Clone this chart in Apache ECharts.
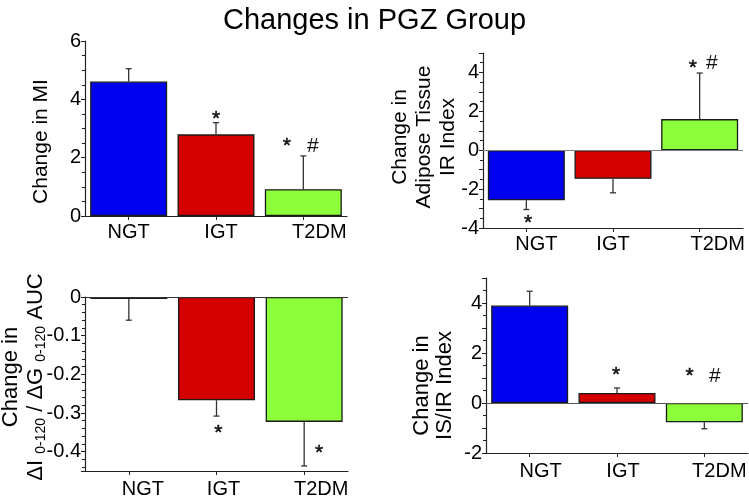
<!DOCTYPE html>
<html><head><meta charset="utf-8">
<script src="https://cdn.jsdelivr.net/npm/echarts@6/dist/echarts.min.js"></script>
<style>html,body{margin:0;padding:0;background:#fff}#c{width:749px;height:497px}</style>
</head><body><div id="c"></div>
<script>
// ---- data ----
const categories = ['NGT', 'IGT', 'T2DM'];
const barColors = ['#0000F0', '#D40000', '#8CFF3A'];

const miValues = [4.61, 2.80, 0.92];
const miSE = [0.44, 0.40, 1.14];
const miMarks = [[1.0, 3.5, '*'], [1.81, 2.55, '*'], [2.11, 2.4, '#']];
const miTicks = [0, 2, 4, 6];

const adiValues = [-2.57, -1.47, 1.60];
const adiSE = [0.48, 0.72, 2.37];
const adiMarks = [[0.02, -3.5, '*'], [1.92, 4.45, '*'], [2.14, 4.45, '#']];
const adiTicks = [-4, -2, 0, 2, 4];

const aucValues = [-0.005, -0.267, -0.323];
const aucSE = [0.055, 0.041, 0.114];
const aucMarks = [[1.02, -0.34, '*'], [2.17, -0.39, '*']];
const aucTicks = [0, -0.1, -0.2, -0.3, -0.4];

const isirValues = [3.90, 0.40, -0.77];
const isirSE = [0.57, 0.20, 0.26];
const isirMarks = [[0.99, 1.33, '*'], [1.83, 1.27, '*'], [2.12, 1.07, '#']];
const isirTicks = [-2, 0, 2, 4];

// ---- chart ----
const FONT = '"Liberation Sans", Arial, sans-serif';
const chart = echarts.init(document.getElementById('c'), null, {renderer: 'canvas'});

const panels = [
  {grid: {left: 85, top: 41, width: 262, height: 175}, values: miValues, se: miSE, marks: miMarks, ticks: miTicks,
   y: {min: 0, max: 6, interval: 2, minorSplit: 4}, labelDx: [0, 5, 16], labelMargin: 7,
   name: 'Change in MI', nameGap: 32, namePad: [0, 26, 0, 0], nameLH: 24, nameSize: 21, zeroLine: null},
  {grid: {left: 483, top: 53, width: 260, height: 175}, values: adiValues, se: adiSE, marks: adiMarks, ticks: adiTicks,
   y: {min: -4, max: 5, interval: 1, minorSplit: 2}, labelDx: [10, 0, 18], labelMargin: 7,
   name: 'Change in\nAdipose Tissue\nIR Index', nameGap: 23, namePad: [0, 0, 0, 7], nameLH: 24, nameSize: 21, zeroLine: '#808080'},
  {grid: {left: 85, top: 297, width: 263, height: 174}, values: aucValues, se: aucSE, marks: aucMarks, ticks: aucTicks,
   y: {min: -0.45, max: 0, interval: null, minorSplit: 5}, labelDx: [14, 7, 17], labelMargin: 9,
   name: '{n|Change in}\n{n|ΔI }{s|0-120}{n| / ΔG }{s|0-120}{n| AUC}', nameGap: 37, namePad: [0, 0, 0, 14], nameLH: 25, nameSize: 22, zeroLine: '#333'},
  {grid: {left: 486, top: 278, width: 262, height: 175}, values: isirValues, se: isirSE, marks: isirMarks, ticks: isirTicks,
   y: {min: -2, max: 5, interval: 1, minorSplit: 2}, labelDx: [11, 6, 15], labelMargin: 9,
   name: 'Change in\nIS/IR Index', nameGap: 30, namePad: [0, 40, 0, 0], nameLH: 23, nameSize: 22, zeroLine: '#555'}
];

const grids = [], xAxes = [], yAxes = [], series = [];
panels.forEach((p, k) => {
  grids.push(Object.assign({outerBoundsMode: 'none', containLabel: false}, p.grid));
  xAxes.push({
    type: 'category', gridIndex: k, position: 'bottom',
    data: categories.map((c, i) => ({value: c, textStyle: {padding: [0, 0, 0, 2 * p.labelDx[i]]}})),
    axisLine: {onZero: false, lineStyle: {color: '#222', width: 1.2}},
    axisTick: {show: true, alignWithLabel: true, length: 4, lineStyle: {color: '#222'}},
    axisLabel: {color: '#000', fontSize: 20, fontFamily: FONT, margin: p.labelMargin - 1, interval: 0},
    splitLine: {show: false}
  });
  const ticks = p.ticks;
  const yAx = {
    type: 'value', gridIndex: k, min: p.y.min, max: p.y.max,
    axisLine: {show: true, lineStyle: {color: '#222', width: 1.2}},
    axisTick: {show: true, length: 4, lineStyle: {color: '#222'}},
    minorTick: {show: true, splitNumber: p.y.minorSplit, length: 3, lineStyle: {color: '#222'}},
    splitLine: {show: false},
    axisLabel: {color: '#000', fontSize: 20, fontFamily: FONT, margin: 4,
      formatter: v => ticks.some(t => Math.abs(t - v) < 1e-6) ? String(Math.round(v * 1000) / 1000) : ''},
    name: p.name, nameLocation: 'middle', nameGap: p.nameGap, nameRotate: 90, nameMoveOverlap: false,
    nameTextStyle: {color: '#000', fontSize: p.nameSize, fontFamily: FONT, lineHeight: p.nameLH, align: 'center', padding: p.namePad,
      rich: {n: {fontSize: p.nameSize, fontFamily: FONT, color: '#000', lineHeight: p.nameLH},
             s: {fontSize: 14, fontFamily: FONT, color: '#000', verticalAlign: 'bottom', lineHeight: p.nameLH}}}
  };
  if (p.y.interval) yAx.interval = p.y.interval;
  yAxes.push(yAx);

  const bar = {
    type: 'bar', xAxisIndex: k, yAxisIndex: k, barWidth: 77, z: 2,
    data: p.values.map((v, i) => ({value: v, itemStyle: {color: barColors[i], borderColor: '#1a1a1a', borderWidth: 1.3}})),
    silent: true, animation: false
  };
  if (p.zeroLine) {
    bar.markLine = {silent: true, symbol: 'none', label: {show: false}, animation: false,
      lineStyle: {color: p.zeroLine, type: 'solid', width: 1.2}, data: [{yAxis: 0}]};
  }
  series.push(bar);

  series.push({
    type: 'custom', xAxisIndex: k, yAxisIndex: k, z: 3, animation: false, silent: true,
    data: p.values.map((v, i) => [i, v, p.se[i]]),
    renderItem: (params, api) => {
      const i = api.value(0), v = api.value(1), s = api.value(2);
      const end = v + (v >= 0 ? s : -s);
      const p0 = api.coord([i, v]), p1 = api.coord([i, end]);
      const st = {stroke: '#333', lineWidth: 1.3};
      return {type: 'group', children: [
        {type: 'line', shape: {x1: p0[0], y1: p0[1], x2: p1[0], y2: p1[1]}, style: st},
        {type: 'line', shape: {x1: p1[0] - 3, y1: p1[1], x2: p1[0] + 3, y2: p1[1]}, style: st}
      ]};
    }
  });

  const marks = p.marks;
  series.push({
    type: 'custom', xAxisIndex: k, yAxisIndex: k, z: 4, animation: false, silent: true,
    data: marks.map(m => [Math.round(m[0]), m[1]]),
    renderItem: (params, api) => {
      const m = marks[params.dataIndex];
      const a = api.coord([0, m[1]]), b = api.coord([1, m[1]]);
      const x = a[0] + m[0] * (b[0] - a[0]);
      const isStar = m[2] === '*';
      return {type: 'text', style: {text: m[2], x: x, y: a[1] + (isStar ? 5 : 0), align: 'center', verticalAlign: 'middle',
        font: '21px ' + FONT, fill: '#111', stroke: isStar ? '#111' : null, lineWidth: isStar ? 0.5 : 0}};
    }
  });
});

chart.setOption({
  animation: false,
  backgroundColor: '#fff',
  title: {text: 'Changes in PGZ Group', left: 'center', top: 1,
    textStyle: {fontSize: 29, fontWeight: 'normal', color: '#000', fontFamily: FONT}},
  grid: grids, xAxis: xAxes, yAxis: yAxes, series: series
});
</script></body></html>
